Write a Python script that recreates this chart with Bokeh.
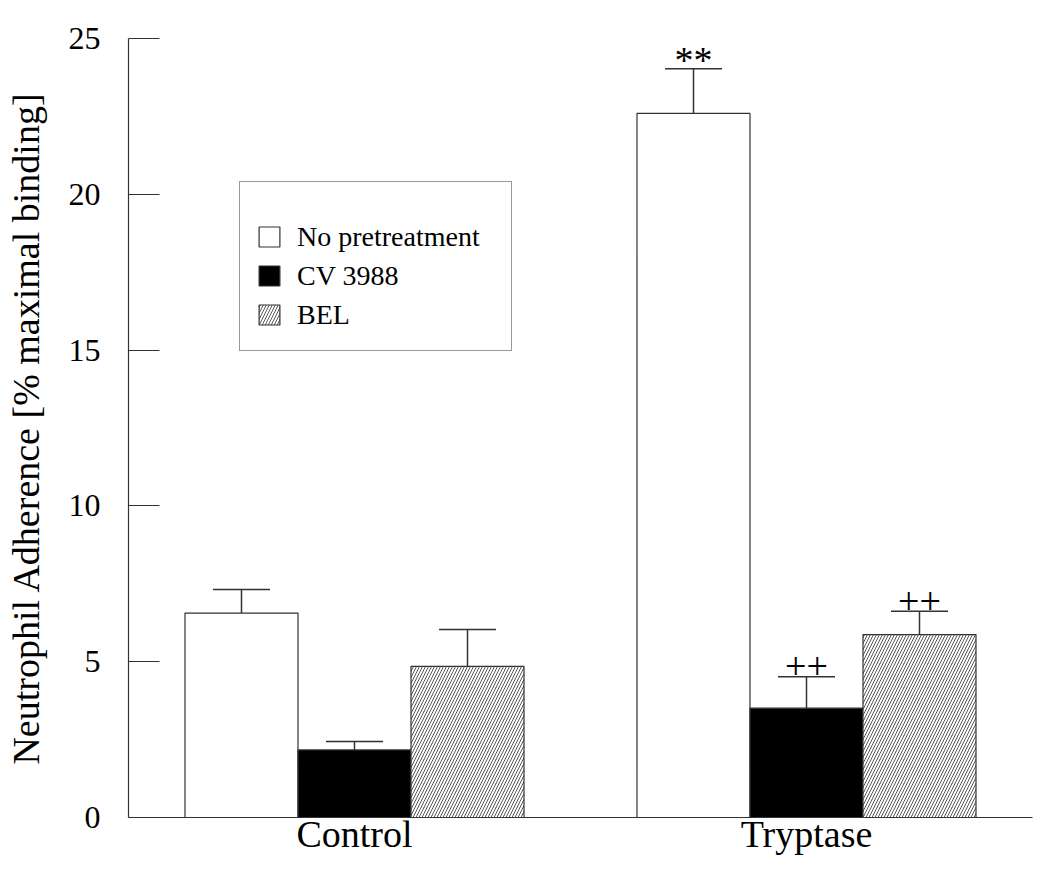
from bokeh.plotting import figure
from bokeh.models import (ColumnDataSource, Range1d, FixedTicker, Whisker, TeeHead,
                          Legend, LegendItem)
from bokeh.core.properties import value
from bokeh.embed import file_html
from bokeh.resources import INLINE

# ---- data ----
groups = ["Control", "Tryptase"]
treatments = ["No pretreatment", "CV 3988", "BEL"]
no_pre = [6.56, 22.60]
no_pre_err = [0.76, 1.43]
cv3988 = [2.17, 3.51]
cv3988_err = [0.27, 1.01]
bel = [4.85, 5.87]
bel_err = [1.18, 0.75]
no_pre_sig = ["", "**"]
cv3988_sig = ["", "++"]
bel_sig = ["", "++"]
yticks = [0, 5, 10, 15, 20, 25]

FONT = "Liberation Serif"
DARK = "#333333"

p = figure(width=1034, height=857, output_backend="svg", toolbar_location=None,
           x_range=Range1d(0.5, 2.5), y_range=Range1d(0, 25),
           min_border_left=128, min_border_right=2, min_border_top=38,
           min_border_bottom=40)
p.outline_line_color = None
p.grid.grid_line_color = None
p.background_fill_color = "white"
p.border_fill_color = "white"

group_pos = [1, 2]
width = 0.25
offsets = [-0.25, 0.0, 0.25]
series = [
    (no_pre, no_pre_err, no_pre_sig, dict(fill_color="white")),
    (cv3988, cv3988_err, cv3988_sig, dict(fill_color="black")),
    (bel, bel_err, bel_sig, dict(fill_color="white", hatch_pattern="/",
                                 hatch_color="#444444", hatch_scale=6,
                                 hatch_weight=0.9)),
]

renderers = []
for (vals, errs, sig, style), off in zip(series, offsets):
    xs = [g + off for g in group_pos]
    src = ColumnDataSource(dict(x=xs, top=vals,
                                upper=[v + e for v, e in zip(vals, errs)],
                                sig=sig))
    r = p.vbar(x="x", top="top", bottom=0, width=width, source=src,
               line_color=DARK, line_width=1.2, **style)
    renderers.append(r)
    w = Whisker(base="x", lower="top", upper="upper", source=src,
                dimension="height", line_color=DARK, line_width=1.5,
                lower_head=None,
                upper_head=TeeHead(size=57, line_color=DARK, line_width=1.5))
    p.add_layout(w)
    is_star = any(s == "**" for s in sig)
    p.text(x="x", y="upper", text="sig", source=src, text_align="center",
           text_baseline="alphabetic",
           y_offset=-9 if is_star else -10,
           text_font=value(FONT),
           text_font_size="38px",
           text_color="black")

# axes
xa = p.xaxis[0]
xa.ticker = FixedTicker(ticks=group_pos)
xa.major_label_overrides = {1: groups[0], 2: groups[1]}
xa.major_tick_line_color = None
xa.major_tick_in = 0
xa.major_tick_out = 0
xa.minor_tick_line_color = None
xa.axis_line_color = DARK
xa.axis_line_width = 1.2
xa.major_label_text_font = FONT
xa.major_label_text_font_size = "38px"
xa.major_label_text_color = "black"
xa.major_label_standoff = -5

ya = p.yaxis[0]
ya.ticker = FixedTicker(ticks=yticks)
ya.minor_tick_line_color = None
ya.major_tick_in = 31
ya.major_tick_out = 0
ya.major_tick_line_color = DARK
ya.major_tick_line_width = 1.2
ya.axis_line_color = DARK
ya.axis_line_width = 1.2
ya.major_label_text_font = FONT
ya.major_label_text_font_size = "32px"
ya.major_label_text_color = "black"
ya.major_label_standoff = 28
ya.axis_label = "Neutrophil Adherence [% maximal binding]"
ya.axis_label_text_font = FONT
ya.axis_label_text_font_size = "38px"
ya.axis_label_text_font_style = "normal"
ya.axis_label_text_color = "black"
ya.axis_label_standoff = 19

legend = Legend(items=[LegendItem(label=t, renderers=[r]) for t, r in zip(treatments, renderers)],
                location=(111, 466), orientation="vertical",
                title=" ", title_text_font_size="12px", title_standoff=5,
                label_text_font=FONT, label_text_font_size="28px",
                label_text_color="black", label_standoff=15, label_width=198,
                label_height=39,
                glyph_width=26, glyph_height=25, spacing=0, padding=16,
                border_line_color=DARK, border_line_width=1.2,
                background_fill_color="white", background_fill_alpha=1.0)
p.add_layout(legend, "center")

open("out.html", "w").write(file_html(p, INLINE))
